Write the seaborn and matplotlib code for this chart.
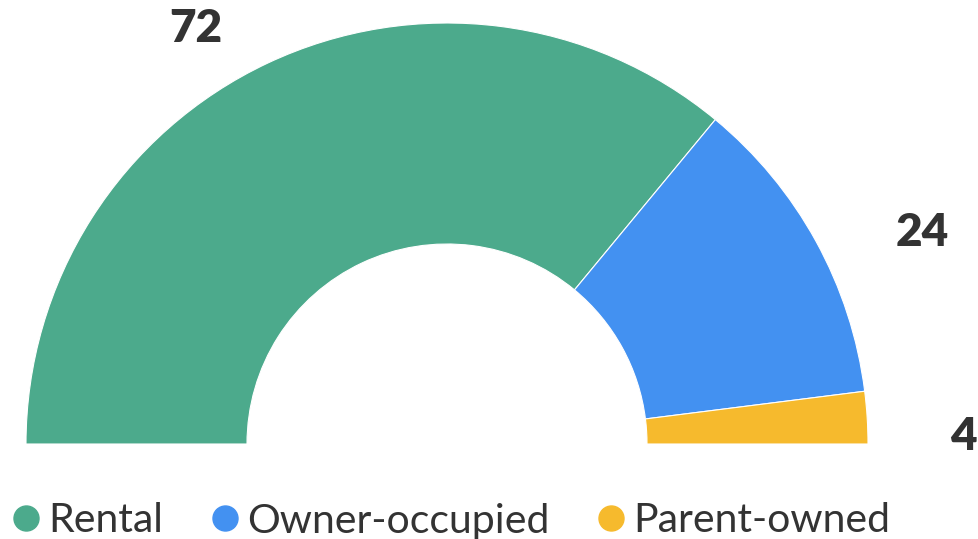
import matplotlib
matplotlib.use("Agg")
import matplotlib.pyplot as plt
import seaborn as sns
from matplotlib.lines import Line2D

# ── data ───────────────────────────────────────────────────────────────────────
categories = ["Rental", "Owner-occupied", "Parent-owned"]
values = [72, 24, 4]
colors = ["#4CAA8C", "#4391F1", "#F6BA2D"]

# ── layout (pixel units, origin bottom-left) ───────────────────────────────────
W, H = 979, 539
CX, CY = 447, H - 444
R_OUT, R_IN = 421, 200
LABEL_XY = [(196, H - 29), (922, H - 233), (963, H - 437)]

sns.set_theme(style="white")
plt.rcParams["font.family"] = ["Lato", "DejaVu Sans"]

fig = plt.figure(figsize=(W / 100, H / 100), dpi=100)
ax = fig.add_axes([0, 0, 1, 1])

# half donut: pad the circle with an invisible wedge equal to the total
total = sum(values)
wedges, _ = ax.pie(
    values + [total],
    colors=colors + ["none"],
    startangle=180,
    counterclock=False,
    center=(CX, CY),
    radius=R_OUT,
    wedgeprops=dict(width=R_OUT - R_IN, edgecolor="white", linewidth=0.8),
)
wedges[-1].set_edgecolor("none")

ax.set_xlim(0, W)
ax.set_ylim(0, H)
ax.set_aspect("auto")
ax.axis("off")

for (x, y), v in zip(LABEL_XY, values):
    ax.text(x, y, str(v), ha="center", va="center",
            fontsize=33, fontweight="heavy", color="#333333")

handles = [Line2D([0], [0], marker="o", linestyle="none", markersize=18,
                  markerfacecolor=c, markeredgecolor=c) for c in colors]
leg = ax.legend(handles, categories, loc="center", bbox_to_anchor=(448 / W, 18 / H),
                ncol=3, frameon=False, handletextpad=0.05, columnspacing=1.0,
                handlelength=1.0, prop={"size": 29.5, "weight": "normal"})
for t in leg.get_texts():
    t.set_color("#333333")

fig.savefig("out.png", dpi=100)
